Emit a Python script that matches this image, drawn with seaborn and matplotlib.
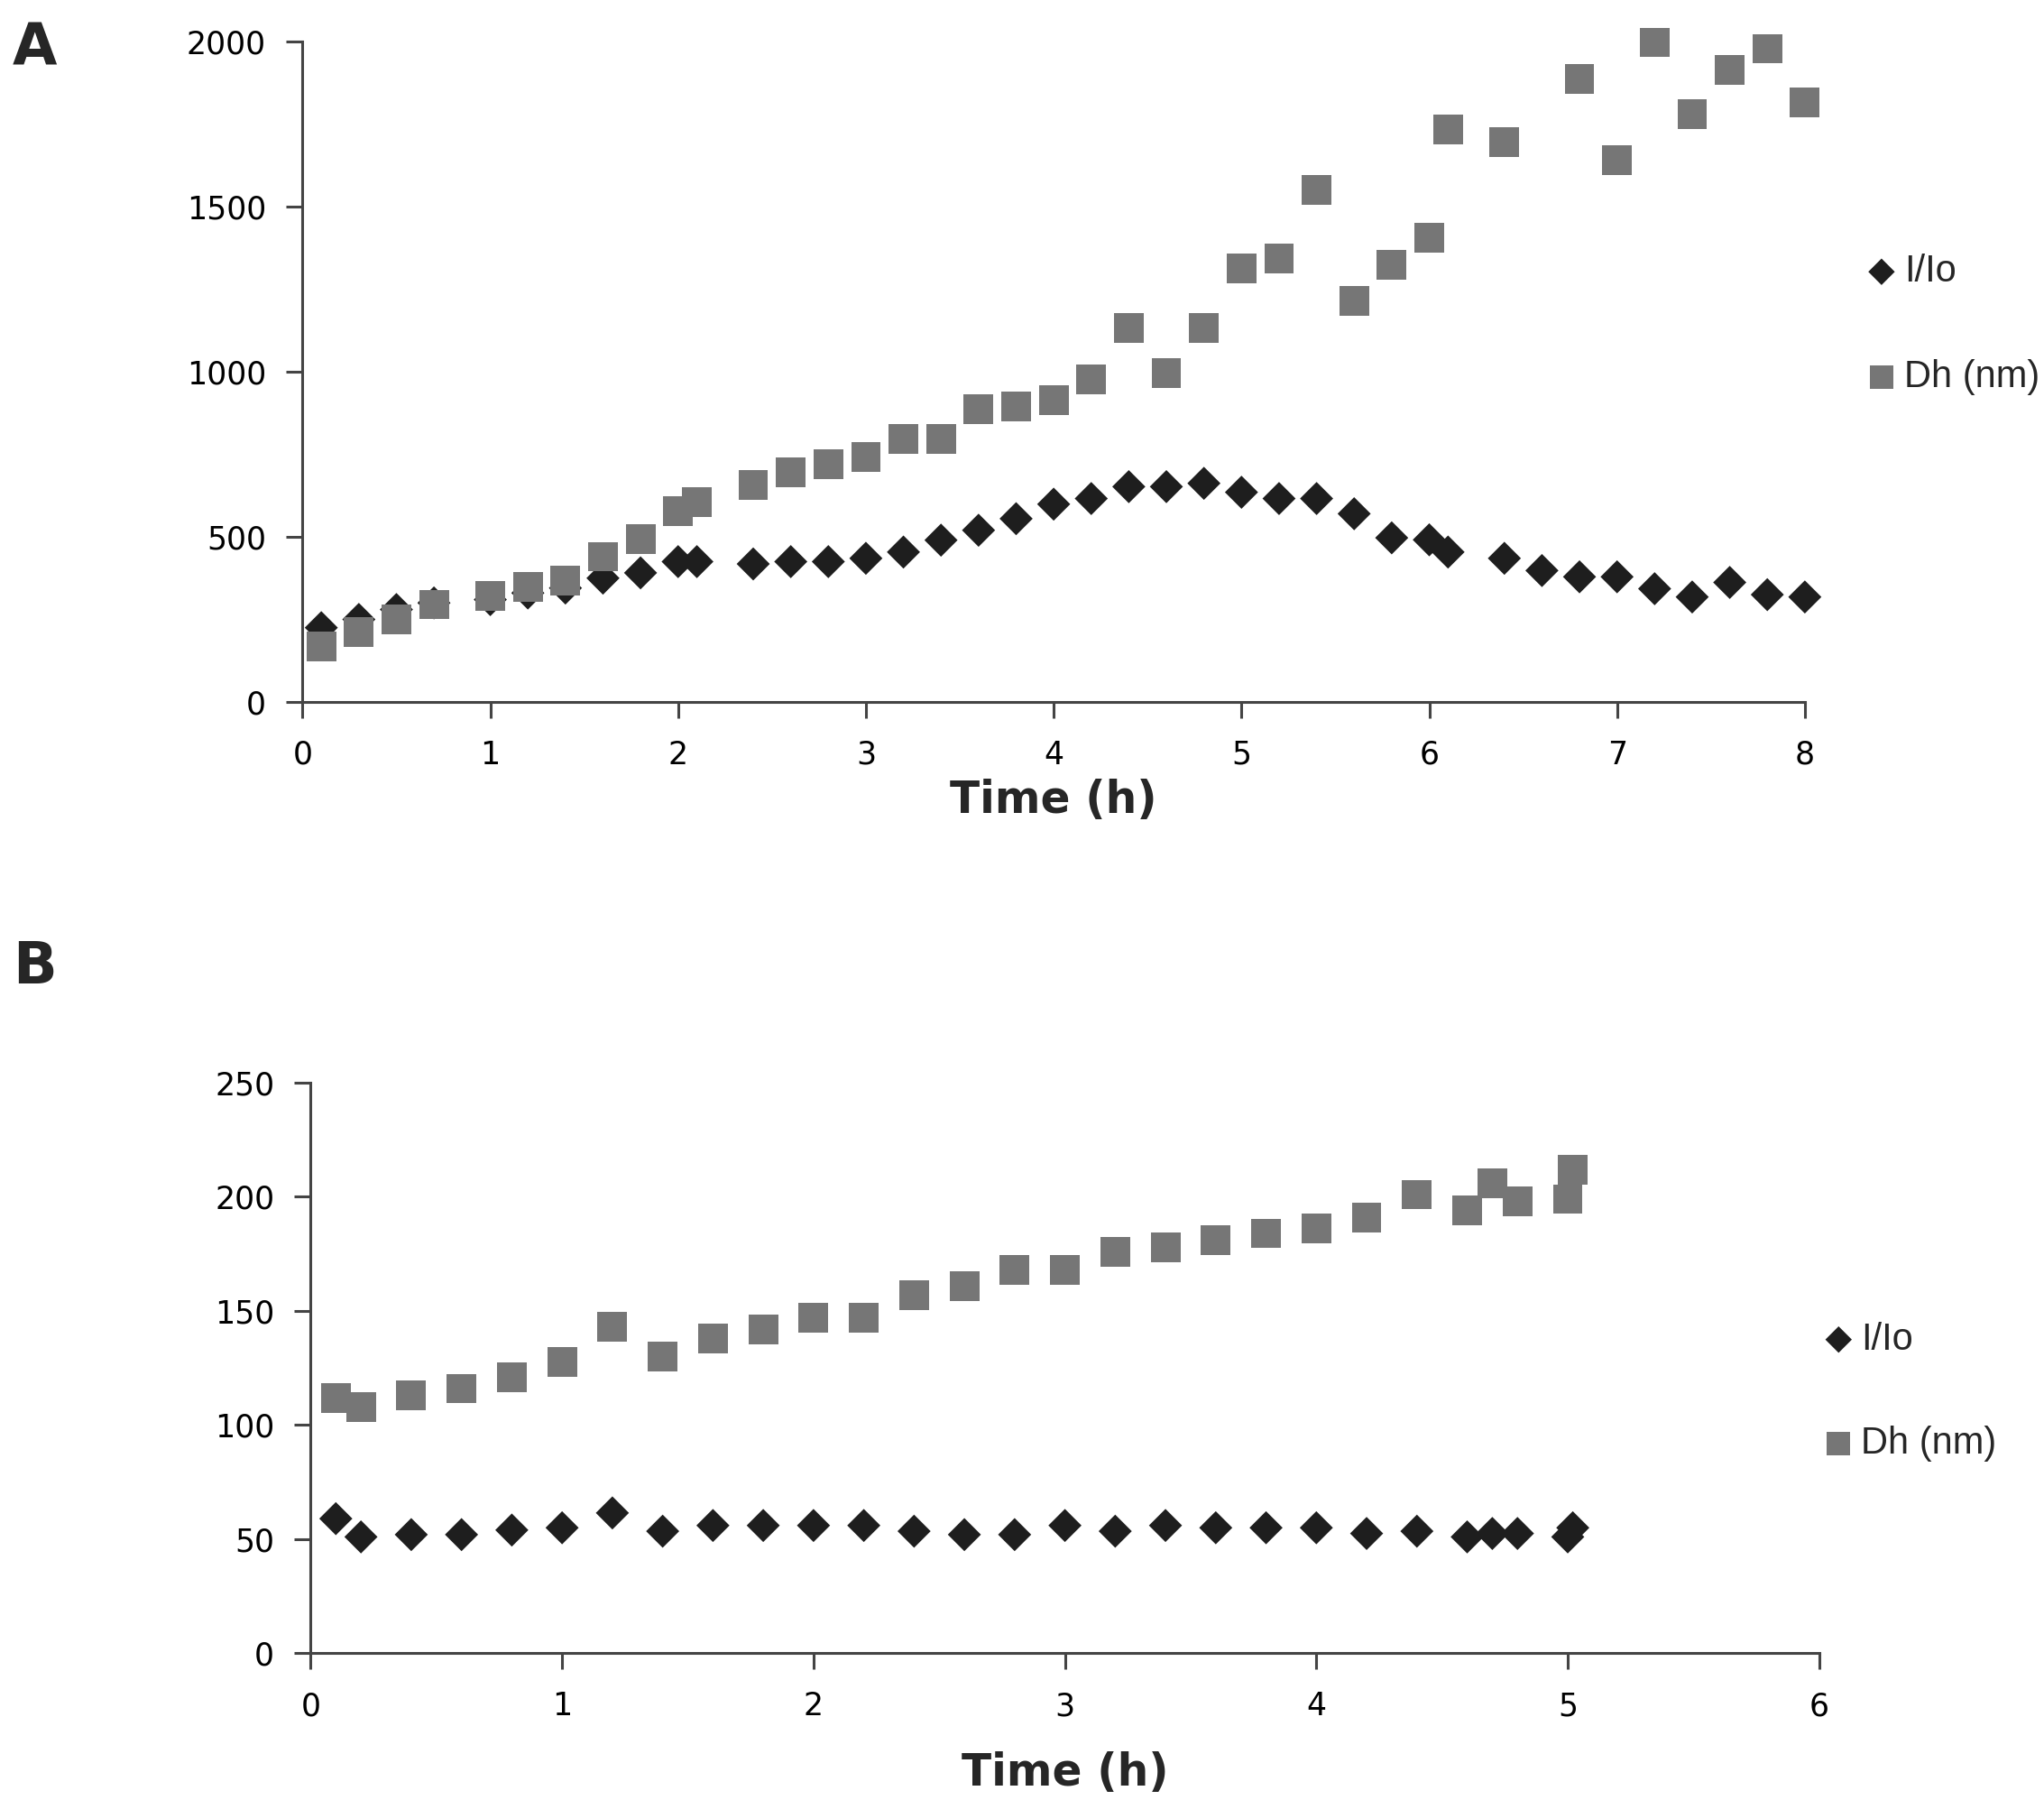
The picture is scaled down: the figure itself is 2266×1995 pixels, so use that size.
"""
Intensity ratio (I/Io) and hydrodynamic diameter (Dh) against time, panels A and B
"""
import numpy as np
import pandas as pd
import matplotlib
matplotlib.use("Agg")
import matplotlib.pyplot as plt
import seaborn as sns

# Panel A
a_time_iio = [0.1, 0.3, 0.5, 0.7, 1.0, 1.2, 1.4, 1.6, 1.8, 2.0, 2.1, 2.4, 2.6, 2.8, 3.0,
              3.2, 3.4, 3.6, 3.8, 4.0, 4.2, 4.4, 4.6, 4.8, 5.0, 5.2, 5.4, 5.6, 5.8, 6.0,
              6.1, 6.4, 6.6, 6.8, 7.0, 7.2, 7.4, 7.6, 7.8, 8.0]
a_iio = [225, 250, 280, 300, 310, 330, 345, 375, 391, 425, 425, 418, 425, 425, 435,
         454, 490, 520, 555, 599, 616, 652, 652, 662, 635, 616, 616, 570, 497, 491,
         454, 435, 398, 379, 379, 343, 318, 362, 325, 318]
a_time_dh = [0.1, 0.3, 0.5, 0.7, 1.0, 1.2, 1.4, 1.6, 1.8, 2.0, 2.1, 2.4, 2.6, 2.8, 3.0,
             3.2, 3.4, 3.6, 3.8, 4.0, 4.2, 4.4, 4.6, 4.8, 5.0, 5.2, 5.4, 5.6, 5.8, 6.0,
             6.1, 6.4, 6.8, 7.0, 7.2, 7.4, 7.6, 7.8, 8.0]
a_dh = [168, 213, 249, 295, 322, 349, 368, 440, 494, 578, 605, 658, 695, 721, 741,
        796, 796, 886, 895, 914, 977, 1132, 996, 1132, 1313, 1342, 1550, 1214, 1323, 1405,
        1733, 1695, 1886, 1641, 1997, 1779, 1914, 1978, 1815]

# Panel B
b_time = [0.1, 0.2, 0.4, 0.6, 0.8, 1.0, 1.2, 1.4, 1.6, 1.8, 2.0, 2.2, 2.4, 2.6,
          2.8, 3.0, 3.2, 3.4, 3.6, 3.8, 4.0, 4.2, 4.4, 4.6, 4.7, 4.8, 5.0, 5.02]
b_iio = [59, 51, 52, 52, 54, 55, 61.5, 53.5, 56, 56, 56, 56, 53.5, 52,
         52, 56, 53.5, 56, 55, 55, 55, 52.5, 53.5, 51, 52.5, 52.5, 51, 55]
b_dh = [112, 108, 113, 116, 121, 127.5, 143, 130, 138, 142, 147, 147, 157, 161,
        168, 168, 176, 178, 181, 184, 186, 191, 201, 194, 206, 198, 199, 212]

a_xticks = [0, 1, 2, 3, 4, 5, 6, 7, 8]
a_yticks = [0, 500, 1000, 1500, 2000]
b_xticks = [0, 1, 2, 3, 4, 5, 6]
b_yticks = [0, 50, 100, 150, 200, 250]

DIAMOND = "#1e1e1e"
SQUARE = "#767676"
AXIS = "#444444"

sns.set_style("ticks")
plt.rcParams["font.family"] = ["DejaVu Sans"]

W, H = 2266, 1995
fig = plt.figure(figsize=(W / 100, H / 100), dpi=100)


def draw_panel(ax, t_iio, iio, t_dh, dh, xticks, yticks, labelpad):
    sns.scatterplot(x=t_iio, y=iio, ax=ax, marker="D", s=350, color=DIAMOND,
                    edgecolor="none", label="I/Io", zorder=2)
    sns.scatterplot(x=t_dh, y=dh, ax=ax, marker="s", s=560, color=SQUARE,
                    edgecolor="none", label="Dh (nm)", zorder=3)
    ax.set_xlim(xticks[0], xticks[-1])
    ax.set_ylim(yticks[0], yticks[-1])
    ax.set_xticks(xticks)
    ax.set_yticks(yticks)
    ax.set_xticklabels([str(v) for v in xticks])
    ax.set_yticklabels([str(v) for v in yticks])
    for side in ["top", "right"]:
        ax.spines[side].set_visible(False)
    for side in ["left", "bottom"]:
        ax.spines[side].set_color(AXIS)
        ax.spines[side].set_linewidth(2.2)
    ax.tick_params(axis="both", direction="out", length=13, width=2.2,
                   color=AXIS, labelsize=25, labelcolor="black")
    ax.tick_params(axis="x", pad=17)
    ax.tick_params(axis="y", pad=16)
    ax.set_xlabel("Time (h)", fontsize=35, fontweight="bold", labelpad=labelpad)
    ax.set_ylabel("")
    for c in ax.collections:
        c.set_clip_on(False)
    ax.get_legend().remove()


ax_a = fig.add_axes([0.148, 0.610, 0.735, 0.367])
draw_panel(ax_a, a_time_iio, a_iio, a_time_dh, a_dh, a_xticks, a_yticks, 7)

ax_b = fig.add_axes([0.152, 0.0815, 0.738, 0.317])
draw_panel(ax_b, b_time, b_iio, b_time, b_dh, b_xticks, b_yticks, 24)

for ax, anchor, spacing in [(ax_a, (0.915, 0.8197), 1.85), (ax_b, (0.894, 0.227), 1.8)]:
    handles, labels = ax.get_legend_handles_labels()
    fig.legend(handles, labels, loc="center left", bbox_to_anchor=anchor,
               bbox_transform=fig.transFigure, frameon=False, borderpad=0,
               borderaxespad=0, handlelength=0.6, handletextpad=0.3,
               labelspacing=spacing, markerscale=0.8,
               prop={"family": "Liberation Sans", "size": 30})

fig.text(14 / W, 1 - 54 / H, "A", fontsize=46, fontweight="bold",
         ha="left", va="center")
fig.text(14 / W, 1 - 1072 / H, "B", fontsize=46, fontweight="bold",
         ha="left", va="center")

fig.savefig("out.png", dpi=100)
